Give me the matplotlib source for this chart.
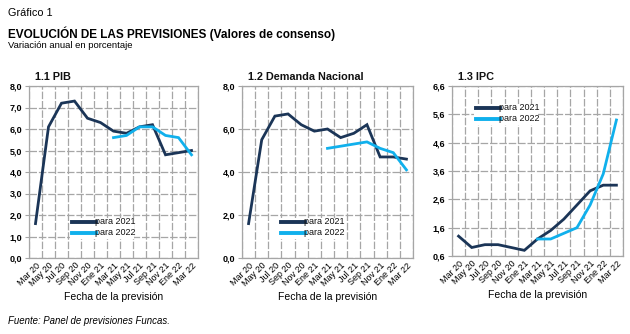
import matplotlib
matplotlib.use("Agg")
import matplotlib.pyplot as plt
from matplotlib.ticker import FuncFormatter, FixedLocator
from matplotlib.patches import Rectangle

plt.rcParams['font.family'] = ['Liberation Sans', 'DejaVu Sans']

categories = ["Mar 20", "May 20", "Jul 20", "Sep 20", "Nov 20", "Ene 21", "Mar 21",
              "May 21", "Jul 21", "Sep 21", "Nov 21", "Ene 22", "Mar 22"]

pib_2021 = [1.6, 6.1, 7.2, 7.3, 6.5, 6.3, 5.9, 5.8, 6.1, 6.2, 4.8, 4.9, 5.0]
pib_2022 = [None, None, None, None, None, None, 5.6, 5.7, 6.1, 6.1, 5.7, 5.6, 4.8]

dn_2021 = [1.6, 5.5, 6.6, 6.7, 6.2, 5.9, 6.0, 5.6, 5.8, 6.2, 4.7, 4.7, 4.6]
dn_2022 = [None, None, None, None, None, None, 5.1, 5.2, 5.3, 5.4, 5.1, 4.9, 4.1]

ipc_2021 = [1.3, 0.9, 1.0, 1.0, 0.9, 0.8, 1.2, 1.5, 1.9, 2.4, 2.9, 3.1, 3.1]
ipc_2022 = [None, None, None, None, None, None, 1.2, 1.2, 1.4, 1.6, 2.4, 3.5, 5.4]

series_labels = ["para 2021", "para 2022"]
c2021 = "#1B3557"
c2022 = "#10B0EC"
grid_c = "#A6A6A6"

fig = plt.figure(figsize=(6.3, 3.34), dpi=100)
W, H = 630, 334

def add_ax(x0, x1, y0, y1):
    return fig.add_axes([x0 / W, 1 - y1 / H, (x1 - x0) / W, (y1 - y0) / H])

fmt = FuncFormatter(lambda v, p: f"{v:.1f}".replace(".", ","))

panels = [
    dict(box=(29, 198, 86, 258), title="1.1 PIB", d1=pib_2021, d2=pib_2022,
         ylim=(0, 8), yticks=[0, 1, 2, 3, 4, 5, 6, 7, 8], leg=(72, 222)),
    dict(box=(242, 413, 86, 258), title="1.2 Demanda Nacional", d1=dn_2021, d2=dn_2022,
         ylim=(0, 8), yticks=[0, 2, 4, 6, 8], leg=(281, 222)),
    dict(box=(452, 623, 86, 256), title="1.3 IPC", d1=ipc_2021, d2=ipc_2022,
         ylim=(0.6, 6.6), yticks=[0.6, 1.6, 2.6, 3.6, 4.6, 5.6, 6.6], leg=(476, 108)),
]

x = list(range(len(categories)))
for p in panels:
    x0, x1, y0, y1 = p["box"]
    ax = add_ax(x0, x1, y0, y1)
    ax.set_xlim(-0.5, len(categories) - 0.5)
    ax.set_ylim(*p["ylim"])
    ax.yaxis.set_major_locator(FixedLocator(p["yticks"]))
    ax.yaxis.set_major_formatter(fmt)
    ax.set_xticks(x)
    ax.set_xticklabels(categories, rotation=45, ha="right", rotation_mode="anchor",
                       fontsize=6.5)
    ax.xaxis.set_minor_locator(FixedLocator([i - 0.5 for i in range(len(categories) + 1)]))
    ax.grid(True, which="minor", axis="x", color=grid_c, lw=0.9, ls=(0, (6, 1.5)))
    ax.grid(True, which="major", axis="y", color=grid_c, lw=0.9, ls=(0, (6, 1.5)))
    ax.tick_params(axis="x", which="both", length=0, pad=2)
    ax.tick_params(axis="y", length=3, color=grid_c, labelsize=6.5, pad=2)
    for lab in ax.get_yticklabels():
        lab.set_fontweight("bold")
    for s in ax.spines.values():
        s.set_color(grid_c)
        s.set_linewidth(0.9)
    ax.set_axisbelow(True)
    xs2 = [xi for xi, v in zip(x, p["d2"]) if v is not None]
    ys2 = [v for v in p["d2"] if v is not None]
    ax.plot(x, p["d1"], color=c2021, lw=2.0, solid_joinstyle="miter", zorder=3)
    ax.plot(xs2, ys2, color=c2022, lw=2.0, solid_joinstyle="miter", zorder=3)
    ax.set_xlabel("Fecha de la previsión", fontsize=7.5, labelpad=3)
    fig.text((x0 + 6) / W, 1 - 77 / H, p["title"], fontsize=7.8, fontweight="bold",
             va="center", ha="left", color="#111111")
    # legend
    lx, ly = p["leg"]
    fig.patches.append(Rectangle(((lx - 2) / W, 1 - (ly + 17) / H), 64 / W, 21 / H,
                                 transform=fig.transFigure, facecolor="white",
                                 edgecolor="none", zorder=5))
    for k, (lab, col) in enumerate(zip(series_labels, [c2021, c2022])):
        yy = ly + k * 10.5
        fig.lines.append(plt.Line2D([lx / W, (lx + 24) / W], [1 - yy / H, 1 - yy / H],
                                    transform=fig.transFigure, color=col, lw=2.8,
                                    zorder=6))
        fig.text((lx + 23) / W, 1 - yy / H, lab, fontsize=6.5, va="center", ha="left",
                 zorder=7, color="#111111")

fig.text(8 / W, 1 - 13 / H, "Gráfico 1", fontsize=7.8, va="center", ha="left")
fig.text(8 / W, 1 - 34 / H, "EVOLUCIÓN DE LAS PREVISIONES (Valores de consenso)",
         fontsize=8.5, fontweight="bold", va="center", ha="left")
fig.text(8 / W, 1 - 46 / H, "Variación anual en porcentaje", fontsize=6.8,
         va="center", ha="left")
fig.text(8 / W, 1 - 321 / H, "Fuente: Panel de previsiones Funcas.", fontsize=6.9,
         style="italic", va="center", ha="left")

fig.savefig("out.png", dpi=100)
